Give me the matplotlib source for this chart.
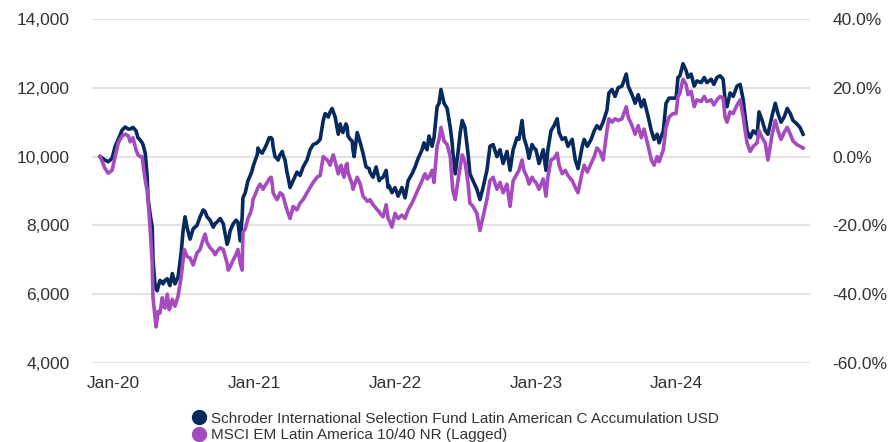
import numpy as np
import pandas as pd
import matplotlib
matplotlib.use("Agg")
import matplotlib.pyplot as plt
import matplotlib.dates as mdates
from matplotlib.ticker import FuncFormatter, MultipleLocator
from matplotlib.lines import Line2D

start_date = "2019-11-29"
day_offsets = [
    0, 13, 21, 31, 39, 47, 57, 65, 73, 78, 85, 93, 98, 104, 109, 111, 117, 122, 124, 130,
    135, 137, 142, 145, 148, 150, 155, 161, 163, 168, 174, 179, 181, 187, 194, 202, 210, 215, 218, 220,
    225, 233, 241, 251, 259, 267, 272, 277, 285, 293, 298, 303, 311, 319, 329, 332, 337, 345, 352, 357,
    363, 368, 370, 376, 383, 389, 394, 396, 402, 407, 409, 414, 420, 422, 427, 433, 438, 443, 446, 448,
    453, 458, 461, 466, 472, 474, 479, 484, 487, 492, 500, 510, 518, 526, 536, 544, 552, 562, 570, 578,
    583, 588, 591, 596, 601, 604, 609, 617, 622, 624, 629, 632, 637, 640, 642, 648, 653, 655, 658, 666,
    674, 681, 689, 692, 697, 699, 707, 715, 718, 723, 725, 733, 741, 746, 749, 756, 764, 772, 782, 790,
    798, 808, 816, 824, 834, 839, 842, 847, 852, 860, 865, 873, 878, 883, 891, 899, 907, 912, 914, 920,
    927, 933, 938, 945, 953, 958, 966, 976, 984, 992, 1002, 1010, 1018, 1028, 1036, 1044, 1054, 1062, 1070, 1080,
    1085, 1093, 1098, 1106, 1111, 1119, 1124, 1129, 1137, 1148, 1155, 1160, 1168, 1176, 1184, 1189, 1197, 1205, 1212, 1223,
    1231, 1238, 1249, 1254, 1262, 1272, 1280, 1287, 1295, 1303, 1313, 1318, 1326, 1334, 1342, 1352, 1363, 1368, 1378, 1386,
    1394, 1402, 1409, 1420, 1428, 1435, 1443, 1448, 1459, 1466, 1474, 1484, 1492, 1497, 1502, 1510, 1518, 1523, 1531, 1539,
    1546, 1557, 1565, 1572, 1583, 1590, 1598, 1606, 1614, 1619, 1624, 1632, 1640, 1650, 1658, 1666, 1671, 1676, 1684, 1692,
    1702, 1707, 1715, 1723, 1730, 1741, 1749, 1756, 1764, 1772, 1780, 1788, 1795, 1805, 1813, 1821,
]

fund_values = [
    10000, 9900, 9850, 9950, 10300, 10500, 10770, 10860, 10800, 10800, 10850, 10750, 10550, 10480, 10400, 10350, 10100, 9400, 8800, 8300,
    7950, 7000, 6300, 6150, 6100, 6200, 6400, 6350, 6300, 6400, 6450, 6300, 6250, 6600, 6300, 6500, 7200, 7850, 8100, 8250,
    7950, 7600, 7900, 8000, 8250, 8450, 8400, 8250, 8150, 7950, 8050, 8100, 8200, 8050, 7450, 7550, 7850, 8050, 8150, 8100,
    7550, 8250, 8800, 8950, 9300, 9450, 9600, 9700, 9900, 10050, 10250, 10150, 10100, 10150, 10250, 10400, 10550, 10550, 10500, 10300,
    10000, 9950, 9900, 10050, 10150, 10050, 9900, 9550, 9400, 9100, 9300, 9550, 9450, 9700, 9900, 10200, 10350, 10400, 10500, 11050,
    11250, 11200, 11150, 11300, 11400, 11300, 11150, 10650, 10950, 10850, 10700, 10800, 10950, 10850, 10600, 10500, 10450, 10200, 10000, 10700,
    10400, 10100, 9700, 9680, 9650, 9550, 9400, 9700, 9550, 9300, 9350, 9400, 9600, 9100, 9150, 8950, 9100, 8850, 9100, 8800,
    9300, 9500, 9700, 9950, 10200, 10400, 10300, 10200, 10600, 10300, 10550, 11450, 11550, 11950, 11550, 11400, 10850, 10400, 10100, 9500,
    10100, 10700, 11050, 10850, 10100, 9500, 9300, 9050, 8750, 9100, 9600, 10300, 10350, 10000, 10200, 9800, 10150, 9600, 10200, 10550,
    10500, 11050, 10550, 10250, 9950, 10350, 10250, 10200, 9800, 10200, 9600, 10200, 10750, 10900, 11100, 10700, 10500, 10550, 10300, 10500,
    9900, 9650, 10300, 10500, 10300, 10500, 10750, 10900, 10800, 11000, 11350, 11850, 11950, 11750, 12000, 12050, 12400, 12050, 11800, 11550,
    11800, 11450, 11650, 11150, 10750, 10500, 10650, 10400, 10750, 11550, 11700, 11700, 11700, 12300, 12350, 12700, 12500, 12300, 12400, 12050,
    12200, 12150, 12300, 12150, 12250, 12100, 12300, 12350, 12250, 11650, 11450, 11850, 11750, 12050, 12100, 11650, 11150, 10750, 10550, 10750,
    10650, 11300, 11050, 10750, 10650, 11200, 11550, 11250, 11000, 11150, 11400, 11250, 11050, 10950, 10850, 10650,
]

bench_values = [
    10000, 9650, 9520, 9600, 10000, 10400, 10600, 10650, 10600, 10430, 10550, 10200, 10050, 10000, 10000, 9800, 9300, 9000, 8750, 7850,
    6900, 5900, 5350, 5050, 5300, 5500, 5450, 5900, 5700, 5600, 6000, 5550, 5600, 5850, 5650, 5950, 6500, 7000, 7300, 7250,
    7100, 7050, 6850, 7200, 7300, 7600, 7750, 7500, 7350, 7250, 7150, 7250, 7350, 7300, 6900, 6700, 6800, 7000, 7150, 7300,
    6900, 6700, 7800, 7900, 8200, 8350, 8550, 8750, 8900, 9050, 9100, 9200, 9100, 9050, 9150, 9250, 9350, 9400, 9200, 8950,
    8850, 8750, 8800, 8950, 8900, 8850, 8650, 8450, 8350, 8200, 8550, 8450, 8650, 8750, 8950, 9100, 9250, 9400, 9450, 10000,
    9950, 9900, 9850, 9750, 9950, 10050, 9850, 9500, 9700, 9750, 9500, 9400, 9750, 9800, 9550, 9350, 9200, 9050, 9150, 9400,
    9200, 8850, 8750, 8700, 8720, 8750, 8600, 8500, 8450, 8400, 8350, 8250, 8600, 8200, 8150, 7950, 8350, 8200, 8300, 8200,
    8450, 8650, 8850, 9050, 9300, 9450, 9500, 9350, 9400, 9600, 9250, 10300, 10500, 10850, 10450, 10350, 10000, 9250, 9000, 8750,
    9300, 9700, 10050, 9850, 9250, 8650, 8550, 8350, 7850, 8250, 8750, 9300, 9400, 9050, 9250, 8950, 9200, 8550, 9300, 9500,
    9600, 9900, 9600, 9400, 9200, 9400, 9300, 9250, 9050, 9350, 8850, 9400, 9900, 9950, 10100, 9750, 9500, 9600, 9450, 9300,
    9100, 8950, 9550, 9750, 9550, 9800, 10000, 10250, 10150, 9900, 10750, 11100, 11000, 11100, 11050, 11100, 11450, 11150, 10900, 10650,
    10900, 10550, 10800, 10300, 9900, 9750, 10000, 9850, 10200, 10850, 11150, 11250, 11250, 11750, 11850, 12250, 12100, 11800, 11900, 11450,
    11650, 11600, 11750, 11600, 11650, 11500, 11650, 11750, 11700, 11150, 11000, 11300, 11250, 11500, 11650, 11150, 10750, 10400, 10150, 10300,
    10400, 10750, 10550, 10400, 9900, 10650, 11050, 10750, 10500, 10700, 10850, 10650, 10450, 10350, 10300, 10250,
]

series_names = [
    "Schroder International Selection Fund Latin American C Accumulation USD",
    "MSCI EM Latin America 10/40 NR (Lagged)",
]
series_colors = ["#062a5e", "#a64bbf"]
left_ticks = [4000, 6000, 8000, 10000, 12000, 14000]
x_tick_years = [2020, 2021, 2022, 2023, 2024]

plt.rcParams["font.family"] = ["Liberation Sans", "DejaVu Sans"]

dates = pd.Timestamp(start_date) + pd.to_timedelta(day_offsets, unit="D")

fig = plt.figure(figsize=(8.95, 4.42), dpi=100)
ax = fig.add_axes([92 / 895, 1 - 363 / 442, (810 - 92) / 895, (363 - 19) / 442])

ax.plot(dates, fund_values, color=series_colors[0], lw=2.6, solid_joinstyle="round", zorder=3)
ax.plot(dates, bench_values, color=series_colors[1], lw=2.6, solid_joinstyle="round", zorder=4)

ax.set_ylim(4000, 14000)
ax.set_yticks(left_ticks)
ax.yaxis.set_major_formatter(FuncFormatter(lambda v, p: f"{int(v):,}"))
x0 = pd.Timestamp(start_date) - pd.Timedelta(days=21)
x1 = pd.Timestamp(start_date) + pd.Timedelta(days=1839)
ax.set_xlim(x0, x1)
ax.set_xticks([pd.Timestamp(f"{y}-01-01") for y in x_tick_years])
ax.xaxis.set_major_formatter(mdates.DateFormatter("%b-%y"))

for s in ax.spines.values():
    s.set_visible(False)
ax.grid(axis="y", color="#e2e2e2", lw=1.5, zorder=0)
ax.tick_params(axis="y", length=0, pad=16, labelsize=12.5, labelcolor="#333333")
ax.tick_params(axis="x", length=0, pad=9, labelsize=12.5, labelcolor="#333333")

ax2 = ax.twinx()
ax2.set_ylim(-0.6, 0.4)
ax2.set_yticks([-0.6, -0.4, -0.2, 0.0, 0.2, 0.4])
ax2.yaxis.set_major_formatter(FuncFormatter(lambda v, p: f"{v*100:.1f}%"))
for s in ax2.spines.values():
    s.set_visible(False)
ax2.tick_params(axis="y", length=0, pad=16, labelsize=12.5, labelcolor="#333333")

handles = [Line2D([0], [0], marker="o", ls="none", markersize=10,
                  markerfacecolor=c, markeredgecolor=c) for c in series_colors]
fig.legend(handles, series_names, loc="upper center", bbox_to_anchor=(455 / 895, 1 - 404 / 442),
           frameon=False, fontsize=11, labelspacing=0.15, handletextpad=0.3,
           handlelength=1.0, borderpad=0, labelcolor="#333333")

fig.savefig("out.png", dpi=100)
